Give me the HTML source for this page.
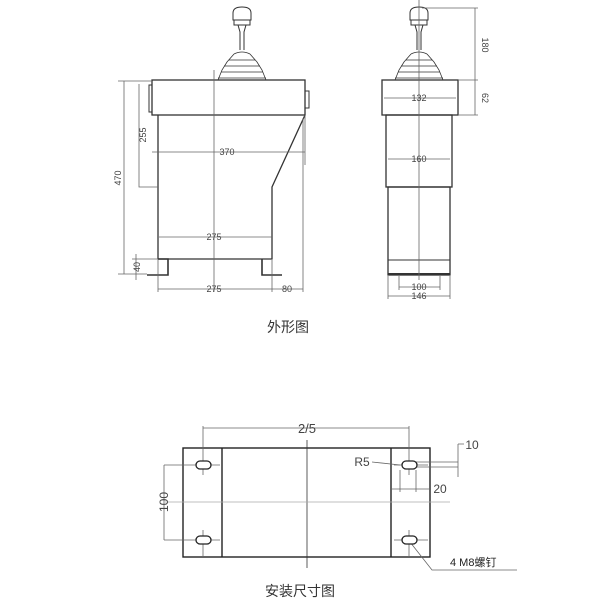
<!DOCTYPE html>
<html><head><meta charset="utf-8"><style>
html,body{margin:0;padding:0;background:#fff;width:600px;height:601px;overflow:hidden}
svg{display:block}
text{font-family:"Liberation Sans","Noto Sans CJK SC",sans-serif;fill:#444}
</style></head><body>
<svg width="600" height="601" viewBox="0 0 600 601" xmlns="http://www.w3.org/2000/svg">
<g fill="none" stroke="#333" stroke-width="1">
<!-- LEFT VIEW joystick -->
<path d="M233,20 L233,13 Q233,7 242,7 Q251,7 251,13 L251,20 Z" fill="#fff"/>
<rect x="234" y="20" width="16" height="5"/>
<path d="M238,25 L240,32 L240,50 M246,25 L244,32 L244,50"/>
<g stroke-width="0.8">
<path d="M234,54 Q242,50 250,54 M229,60 L255,60 M224,66 L260,66 M221,72 L263,72 M218,78 L266,78"/>
<path d="M234,54 L227,62 L222,70 L218,80 M250,54 L257,62 L262,70 L266,80"/>
</g>
<!-- body -->
<rect x="152" y="80" width="153" height="35" stroke-width="1.3"/>
<rect x="149" y="85" width="3" height="27"/>
<rect x="305" y="91" width="4" height="17"/>
<path d="M158,115 L158,259 L272,259 L272,187 L305,115" stroke-width="1.3"/>
<path d="M158,259 L168,259 L168,275 L147,275 M262,259 L262,275 L282,275" stroke-width="1.6"/>
<path d="M214,70 L214,292" stroke="#666" stroke-width="0.8"/>
<g stroke="#666" stroke-width="0.8">
<path d="M124,81 L124,274 M118,81 L152,81 M118,274 L147,274"/>
<path d="M139,84 L139,187 L158,187"/>
<path d="M152,152 L305,152 M305,115 L305,165"/>
<path d="M159,237 L272,237"/>
<path d="M136,254 L136,280 M132,259 L158,259"/>
<path d="M158,260 L158,292 M158,289 L303,289 M272,260 L272,292 M303,118 L303,292"/>
</g>
</g>
<g font-size="9">
<text x="227" y="155" text-anchor="middle">370</text>
<text x="214" y="240" text-anchor="middle">275</text>
<text x="214" y="292" text-anchor="middle">275</text>
<text x="287" y="292" text-anchor="middle">80</text>
<text transform="translate(146,135) rotate(-90)" text-anchor="middle">255</text>
<text transform="translate(121,178) rotate(-90)" text-anchor="middle">470</text>
<text transform="translate(140,267) rotate(-90)" text-anchor="middle">40</text>
</g>

<!-- RIGHT VIEW -->
<g fill="none" stroke="#333" stroke-width="1">
<path d="M410,20 L410,13 Q410,7 419,7 Q428,7 428,13 L428,20 Z" fill="#fff"/>
<rect x="411" y="20" width="16" height="5"/>
<path d="M415,25 L417,32 L417,50 M423,25 L421,32 L421,50"/>
<g stroke-width="0.8">
<path d="M411,54 Q419,50 427,54 M406,60 L432,60 M401,66 L437,66 M398,72 L440,72 M395,78 L443,78"/>
<path d="M411,54 L404,62 L399,70 L395,80 M427,54 L434,62 L439,70 L443,80"/>
</g>
<rect x="382" y="80" width="76" height="35" stroke-width="1.3"/>
<rect x="386" y="115" width="66" height="72" stroke-width="1.3"/>
<rect x="388" y="187" width="62" height="88" stroke-width="1.3"/>
<path d="M388,260 L450,260"/>
<path d="M388,274 L450,274" stroke-width="2"/>
<g stroke="#666" stroke-width="0.8">
<path d="M419,0 L419,280"/>
<path d="M422,8 L478,8 M475,8 L475,115 M458,80 L478,80 M458,115 L478,115"/>
<path d="M384,98 L456,98 M388,159 L450,159"/>
<path d="M399,276 L399,290 M440,276 L440,290 M399,287 L440,287"/>
<path d="M388,276 L388,299 M450,276 L450,299 M388,296 L450,296"/>
</g>
</g>
<g font-size="9">
<text x="419" y="101" text-anchor="middle">132</text>
<text x="419" y="162" text-anchor="middle">160</text>
<text x="419" y="290" text-anchor="middle">100</text>
<text x="419" y="299" text-anchor="middle">146</text>
<text transform="translate(482,45) rotate(90)" text-anchor="middle">180</text>
<text transform="translate(482,98) rotate(90)" text-anchor="middle">62</text>
</g>
<text x="288" y="332" font-size="14" text-anchor="middle" style="fill:#333">外形图</text>

<!-- INSTALL VIEW -->
<g fill="none" stroke="#222" stroke-width="1.4">
<rect x="183" y="448" width="247" height="109"/>
<path d="M222,448 L222,557 M391,448 L391,557"/>
</g>
<g fill="none" stroke="#666" stroke-width="0.8">
<path d="M307,440 L307,568" stroke="#333"/>
<path d="M165,502 L450,502" stroke="#aaa"/>
<path d="M203,426 L203,475 M409,426 L409,475 M203,428 L409,428"/>
<path d="M203,530 L203,557 M409,530 L409,557"/>
<path d="M164,465 L220,465 M164,540 L220,540 M164,465 L164,540"/>
<path d="M400,470 L400,492 M416,470 L416,492 M392,489 L430,489"/>
<path d="M416,462 L458,462 M416,467 L458,467 M458,444 L458,477 M458,444 L464,444"/>
<path d="M372,462 L400,465"/>
<path d="M410,542 L432,570 L517,570"/>
<path d="M394,465 L428,465 M394,540 L428,540"/>
</g>
<g fill="#fff" stroke="#222" stroke-width="1.3">
<rect x="196" y="461" width="15" height="8" rx="4"/>
<rect x="196" y="536" width="15" height="8" rx="4"/>
<rect x="402" y="461" width="15" height="8" rx="4"/>
<rect x="402" y="536" width="15" height="8" rx="4"/>
</g>
<g font-size="13">
<text x="307" y="433" text-anchor="middle">2/5</text>
<text x="362" y="466" text-anchor="middle" font-size="12">R5</text>
<text x="440" y="493" text-anchor="middle" font-size="12">20</text>
<text x="472" y="449" text-anchor="middle" font-size="12">10</text>
<text transform="translate(168,502) rotate(-90)" text-anchor="middle" font-size="12">100</text>
<text x="450" y="566" font-size="11" style="fill:#222">4   M8螺钉</text>
</g>
<text x="300" y="596" font-size="14" text-anchor="middle" style="fill:#333">安装尺寸图</text>
</svg>
</body></html>
